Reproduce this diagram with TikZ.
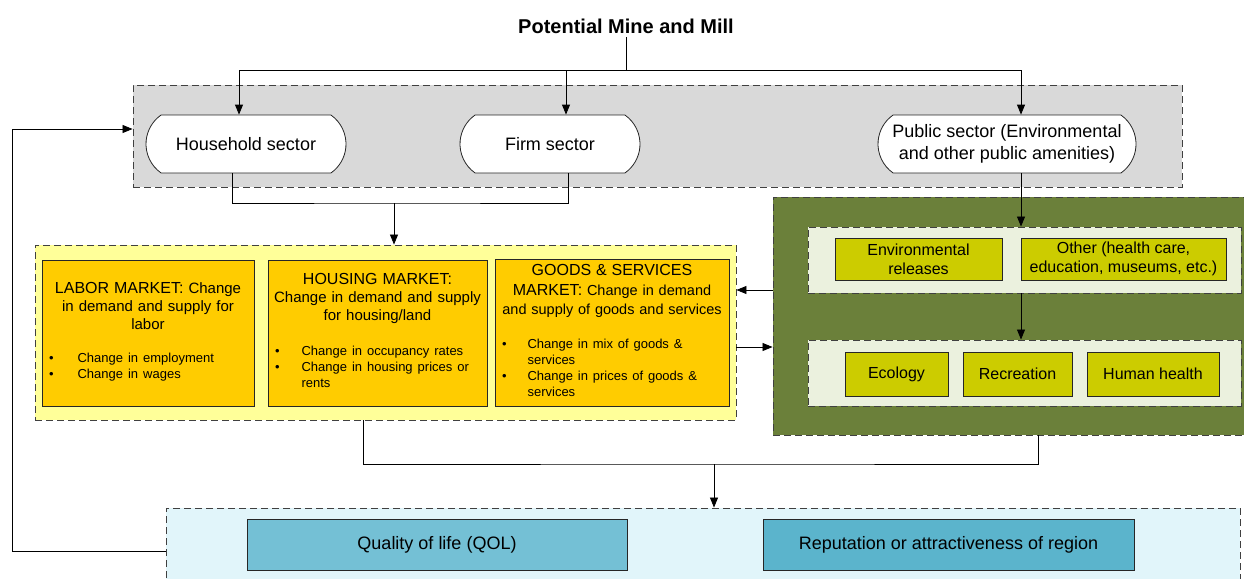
\documentclass[tikz,border=0pt]{standalone}
\usepackage{fontspec}
\setmainfont{Liberation Sans}
\usetikzlibrary{shapes.misc, arrows.meta, positioning}

\definecolor{sectgray}{RGB}{217,217,217}
\definecolor{mktyellow}{RGB}{255,255,153}
\definecolor{mktorange}{RGB}{255,204,0}
\definecolor{envgreen}{RGB}{107,128,58}
\definecolor{envpale}{RGB}{235,241,222}
\definecolor{envolive}{RGB}{204,204,0}
\definecolor{qolpale}{RGB}{225,245,250}
\definecolor{qolblue}{RGB}{116,192,213}
\definecolor{repblue}{RGB}{91,180,204}

\begin{document}
\begin{tikzpicture}[x=1pt, y=-1pt,
  zone/.style={draw=black!75, dash pattern=on 7pt off 4pt, line width=0.9pt},
  sector/.style={rounded rectangle, rounded rectangle arc length=110, draw=black!85,
    fill=white, line width=0.8pt, minimum height=58pt, align=center, inner sep=2pt,
    font=\fontsize{18}{22}\selectfont},
  market/.style={draw=black!85, fill=mktorange, line width=0.8pt, minimum height=146pt,
    align=center, inner sep=5pt, font=\fontsize{15}{18}\selectfont},
  effect/.style={draw=black!85, fill=envolive, line width=0.8pt, align=center, inner sep=2pt,
    font=\fontsize{16}{19}\selectfont},
  outcome/.style={draw=black!85, line width=0.8pt, minimum height=51pt,
    font=\fontsize{18}{22}\selectfont},
  arr/.style={-{Triangle[length=10pt,width=8pt]}, line width=0.8pt},
  link/.style={line width=0.8pt}
]
\path[use as bounding box, clip] (0,0) rectangle (1244,578);

% Containers
\node[zone, fill=sectgray, minimum width=1049pt, minimum height=102pt] (sect) at (657.5,136) {};
\node[zone, fill=mktyellow, minimum width=701pt, minimum height=175pt] (mkt) at (385.5,332.5) {};
\node[zone, fill=envgreen, minimum width=477pt, minimum height=238pt] (grn) at (1011.5,316) {};
\node[zone, fill=envpale, minimum width=433pt, minimum height=66pt] (upper) at (1024.5,260) {};
\node[zone, fill=envpale, minimum width=433pt, minimum height=66pt] (lower) at (1024.5,373) {};
\node[zone, fill=qolpale, minimum width=1074pt, minimum height=77pt] (btm) at (703,546.5) {};

% Source
\node[font=\bfseries\fontsize{20}{24}\selectfont] (mine) at (626,26) {Potential Mine and Mill};

% Sectors
\node[sector, minimum width=204pt] (hh) at (246,144) {Household sector};
\node[sector, minimum width=184pt] (fm) at (550,144) {Firm sector};
\node[sector, minimum width=262pt] (pub) at (1007,144) {Public sector (Environmental\\and other public amenities)};

% Markets
\node[market, text width=202pt] (labor) at (148,333) {%
  {\fontsize{16}{18}\selectfont LABOR MARKET:} Change\\
  in demand and supply for\\labor\par\vspace{21pt}
  \fontsize{13}{16}\selectfont\noindent
  \makebox[\linewidth][l]{\hspace*{2pt}\begin{tabular}{@{}l@{\hspace{24pt}}l@{}}
  \textbullet & Change in employment\\
  \textbullet & Change in wages
  \end{tabular}}};
\node[market, text width=209pt] (housing) at (377.5,333) {%
  {\fontsize{16}{18}\selectfont HOUSING MARKET:}\\
  Change in demand and supply\\for housing/land\par\vspace{20pt}
  \fontsize{13}{16}\selectfont\noindent
  \makebox[\linewidth][l]{\hspace*{2pt}\begin{tabular}{@{}l@{\hspace{22pt}}l@{}}
  \textbullet & Change in occupancy rates\\
  \textbullet & Change in housing prices or\\
              & rents
  \end{tabular}}};
\node[market, text width=224pt, font=\fontsize{14.5}{19.5}\selectfont] (goods) at (612,333) {%
  {\fontsize{16}{19.5}\selectfont GOODS \& SERVICES}\\
  {\fontsize{16}{19.5}\selectfont MARKET:} Change in demand\\
  and supply of goods and services\par\vspace{19pt}
  \fontsize{13}{16}\selectfont\noindent
  \makebox[\linewidth][l]{\hspace*{2pt}\begin{tabular}{@{}l@{\hspace{21pt}}l@{}}
  \textbullet & Change in mix of goods \&\\
              & services\\
  \textbullet & Change in prices of goods \&\\
              & services
  \end{tabular}}};

% Public effects
\node[effect, minimum width=167pt, minimum height=42pt] (env) at (918.5,259) {Environmental\\releases};
\node[effect, minimum width=205pt, minimum height=42pt] (other) at (1123.5,259) {Other (health care,\\education, museums, etc.)};
\node[effect, minimum width=103pt, minimum height=44pt] (eco) at (896.5,374) {Ecology};
\node[effect, minimum width=109pt, minimum height=44pt] (rec) at (1017.5,374) {Recreation};
\node[effect, minimum width=132pt, minimum height=44pt] (hum) at (1153,374) {Human health};

% Outcomes
\node[outcome, fill=qolblue, minimum width=380pt] (qol) at (437,544.5) {Quality of life (QOL)};
\node[outcome, fill=repblue, minimum width=371pt] (rep) at (948.5,544.5) {Reputation or attractiveness of region};

% Connectors
\coordinate (split) at (626,70);
\coordinate (join) at (394,203);
\coordinate (merge) at (714,464);
\coordinate (back) at (12,129);
\draw[link] (mine.south) -- (split);
\draw[arr] (split) -| ([xshift=-7]hh.north);
\draw[arr] (split) -| ([xshift=16]fm.north);
\draw[arr] (split) -| ([xshift=14]pub.north);
\draw[link] ([xshift=-14]hh.south) |- (join) -| ([xshift=18]fm.south);
\draw[arr] (join) -- (join |- mkt.north);
\draw[arr] ([xshift=14]pub.south) -- ([xshift=14]pub.south |- upper.north);
\draw[arr] ([xshift=-3.5]upper.south) -- ([xshift=-3.5]lower.north);
\draw[arr] ([yshift=26]grn.west) -- ([yshift=42.5]mkt.east);
\draw[arr] ([yshift=-14.5]mkt.east) -- ([yshift=-31]grn.west);
\draw[link] ([xshift=-22.5]mkt.south) |- (merge) -| ([xshift=26.5]grn.south);
\draw[arr] (merge) -- (merge |- btm.north);
\draw[arr] ([yshift=-4.5]btm.west) -| (back) -- ([yshift=7]sect.west);
\end{tikzpicture}
\end{document}
